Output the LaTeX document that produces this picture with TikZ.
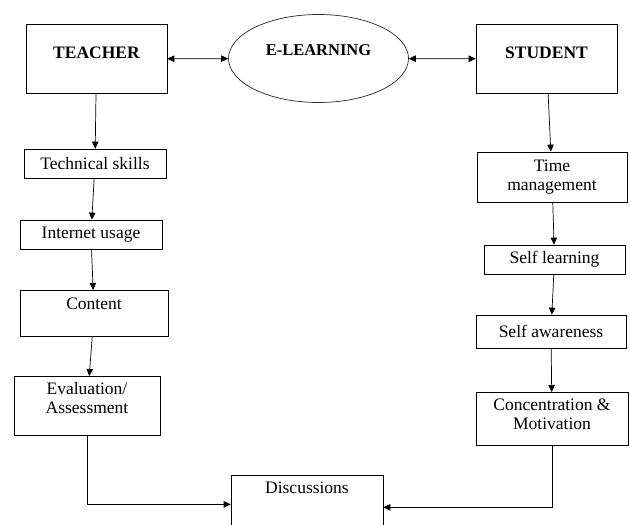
\documentclass[tikz,border=0pt]{standalone}
\usepackage{fontspec}
\setmainfont{Liberation Serif}
\usetikzlibrary{arrows.meta,shapes.geometric}
\tikzset{
  elbox/.style={
    rectangle, draw=black, fill=white, line width=0.7pt,
    inner sep=0pt, align=center, font=\fontsize{17.5}{19}\selectfont
  },
  elhead/.style={elbox,font=\fontsize{17.5}{19}\selectfont\bfseries},
  elcloud/.style={
    ellipse, draw=black!85, line width=0.7pt, inner sep=0pt,
    minimum width=180pt, minimum height=88pt,
    font=\fontsize{16.5}{19}\selectfont\bfseries
  },
  eledge/.style={-{Triangle[length=7pt,width=6.5pt]},line width=0.7pt},
  eltwoway/.style={{Triangle[length=7pt,width=6.5pt]}-{Triangle[length=7pt,width=6.5pt]},line width=0.7pt}
}

\begin{document}
\begin{tikzpicture}[x=1pt,y=-1pt]
  \useasboundingbox (0,0) rectangle (630,525);
  % top row
  \node[elhead,anchor=north,minimum width=141pt,text height=34pt,text depth=35pt] (teacher) at (96.5,24) {TEACHER};
  \node[elcloud,text height=10pt,text depth=16pt] (elearn) at (318.5,58.5) {E-LEARNING};
  \node[elhead,anchor=north,minimum width=141pt,text height=34pt,text depth=35pt] (student) at (546.5,24) {STUDENT};
  \draw[eltwoway] (teacher) -- (elearn);
  \draw[eltwoway] (elearn) -- (student);
  % teacher side
  \node[elbox,minimum width=142pt,minimum height=29pt] (tech) at (95,163.5) {Technical skills};
  \node[elbox,minimum width=142pt,minimum height=29pt] (inet) at (91,234.5) {Internet usage};
  \node[elbox,anchor=north,minimum width=148pt,text height=19pt,text depth=27pt] (content) at (94,290) {Content};
  \node[elbox,anchor=north,minimum width=146pt,text height=37pt,text depth=22pt] (evalu) at (87,376) {Evaluation/\\Assessment};
  % student side
  \node[elbox,minimum width=150pt,minimum height=50pt] (time) at (552,177) {Time\\management};
  \node[elbox,minimum width=141pt,minimum height=29pt] (selfl) at (554.5,259.5) {Self learning};
  \node[elbox,minimum width=150pt,minimum height=33pt] (selfa) at (551,331.5) {Self awareness};
  \node[elbox,anchor=north,minimum width=152pt,text height=37pt,text depth=16pt] (conc) at (552,392) {Concentration \&\\Motivation};
  % bottom
  \node[elbox,anchor=north,minimum width=152pt,text height=18pt,text depth=40pt] (disc) at (307,475) {Discussions};
  \draw[eledge] (teacher) -- (tech);
  \draw[eledge] (tech) -- (inet);
  \draw[eledge] (inet) -- (content);
  \draw[eledge] (content) -- (evalu);
  \draw[eledge] (student) -- (time);
  \draw[eledge] (time) -- (selfl);
  \draw[eledge] (selfl) -- (selfa);
  \draw[eledge] (selfa) -- (conc);
  \draw[eledge] (evalu.south) |- (disc.west);
  \draw[eledge] (conc.south) |- ([yshift=-3pt]disc.east);
\end{tikzpicture}
\end{document}
